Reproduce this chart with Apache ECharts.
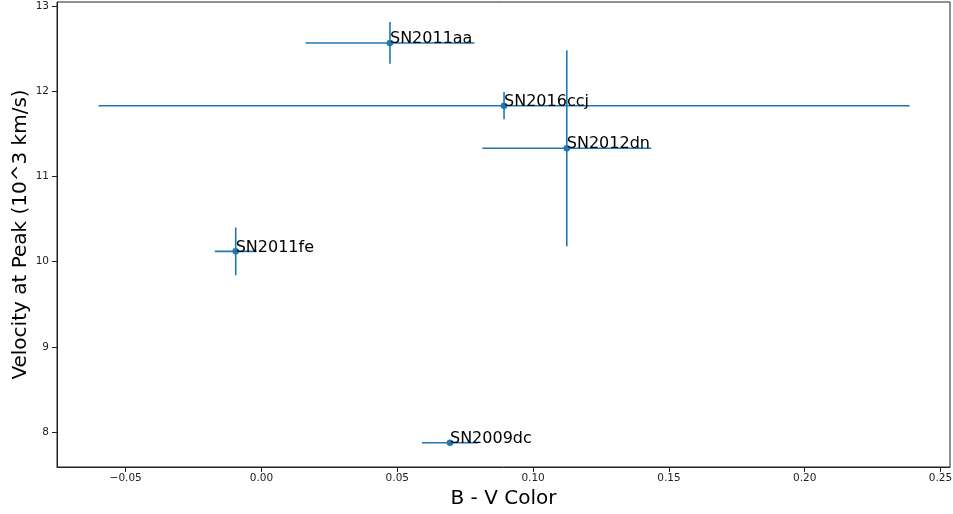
<!DOCTYPE html>
<html>
<head>
<meta charset="utf-8">
<script src="https://cdn.jsdelivr.net/npm/echarts@6/dist/echarts.min.js"></script>
<style>html,body{margin:0;padding:0;background:#fff}#c{width:953px;height:514px}</style>
</head>
<body>
<div id="c"></div>
<script>
const names = ['SN2011aa', 'SN2016ccj', 'SN2012dn', 'SN2011fe', 'SN2009dc'];
const bvColor = [0.0473, 0.0893, 0.1124, -0.0095, 0.0694];
const bvErr = [0.0311, 0.1493, 0.0311, 0.0077, 0.0103];
const velocity = [12.566, 11.83, 11.33, 10.12, 7.874];
const velErr = [0.245, 0.16, 1.15, 0.28, 0.0];
const xTicks = [-0.05, 0.0, 0.05, 0.10, 0.15, 0.20, 0.25];
const yTicks = [8, 9, 10, 11, 12, 13];

const color = '#1f77b4';
const data = names.map((n, i) => [bvColor[i], velocity[i], bvErr[i], velErr[i], n]);

const chart = echarts.init(document.getElementById('c'), null, {renderer: 'canvas'});
const font = 'DejaVu Sans';
chart.setOption({
  animation: false,
  backgroundColor: '#fff',
  grid: {left: 57, right: 3, top: 2, bottom: 47, show: true, borderColor: '#222', borderWidth: 1,
    containLabel: false, outerBoundsMode: 'none'},
  xAxis: {
    type: 'value', min: -0.0753, max: 0.2535,
    name: 'B - V Color', nameLocation: 'middle', nameGap: 22, nameMoveOverlap: false,
    nameTextStyle: {fontFamily: font, fontSize: 20, color: '#000'},
    axisLine: {show: true, onZero: false, lineStyle: {color: '#222', width: 1}},
    axisTick: {show: true, length: 5, lineStyle: {color: '#222'}, customValues: xTicks},
    axisLabel: {fontFamily: font, fontSize: 10.5, color: '#222', margin: 6,
      customValues: xTicks,
      formatter: v => v.toFixed(2).replace('-', '\u2212')},
    splitLine: {show: false}
  },
  yAxis: {
    type: 'value', min: 7.589, max: 13.047,
    name: 'Velocity at Peak (10^3 km/s)', nameLocation: 'middle', nameGap: 26, nameRotate: 90,
    nameMoveOverlap: false,
    nameTextStyle: {fontFamily: font, fontSize: 20, color: '#000'},
    axisLine: {show: true, onZero: false, lineStyle: {color: '#222', width: 1}},
    axisTick: {show: true, length: 5, lineStyle: {color: '#222'}, customValues: yTicks},
    axisLabel: {fontFamily: font, fontSize: 10.5, color: '#222', margin: 8,
      customValues: yTicks,
      formatter: v => String(v)},
    splitLine: {show: false}
  },
  series: [{
    type: 'custom',
    data: data,
    clip: false,
    renderItem: function (params, api) {
      const x = api.value(0), y = api.value(1), ex = api.value(2), ey = api.value(3);
      const c = api.coord([x, y]);
      const l = api.coord([x - ex, y]);
      const r = api.coord([x + ex, y]);
      const t = api.coord([x, y + ey]);
      const b = api.coord([x, y - ey]);
      const ls = {stroke: color, lineWidth: 1.6};
      const children = [
        {type: 'line', shape: {x1: l[0], y1: l[1], x2: r[0], y2: r[1]}, style: ls},
        {type: 'line', shape: {x1: t[0], y1: t[1], x2: b[0], y2: b[1]}, style: ls},
        {type: 'circle', shape: {cx: c[0], cy: c[1], r: 3.3}, style: {fill: color}},
        {type: 'text', x: c[0], y: c[1] + 4, style: {text: api.value(4), fill: '#000',
          font: '16px "DejaVu Sans"', align: 'left', verticalAlign: 'bottom'}}
      ];
      return {type: 'group', children: children};
    }
  }]
});
</script>
</body>
</html>
